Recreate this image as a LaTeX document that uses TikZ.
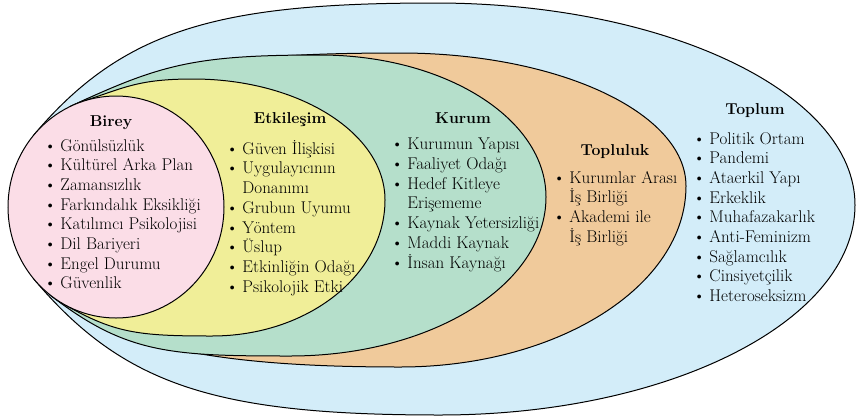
\documentclass[tikz,border=0pt]{standalone}
\definecolor{toplumC}{RGB}{211,237,249}
\definecolor{toplulukC}{RGB}{240,202,155}
\definecolor{kurumC}{RGB}{181,223,203}
\definecolor{etkilesimC}{RGB}{240,238,152}
\definecolor{bireyC}{RGB}{251,221,231}
\tikzset{region/.style={draw=black, line width=1pt, fill=#1},
  head/.style={font=\fontsize{15.8}{19.7}\selectfont\bfseries},
  items/.style={anchor=north west, inner sep=0pt, align=left, font=\fontsize{17}{19.7}\selectfont}}
\newcommand{\itm}{\textbullet\hspace{4pt}}
\newcommand{\ind}{\hphantom{\textbullet\hspace{4pt}}}
\begin{document}
\begin{tikzpicture}[x=1pt,y=-1pt]
  \useasboundingbox (0,0) rectangle (856,418);
  % the outer regions leave the Birey ellipse on its left side
  \draw[region=toplumC] (33.3,135.6) .. controls (123.3,28.4) and (220,3) .. (435,3)
    .. controls (667,3) and (855,93.4) .. (855,205)
    .. controls (855,321) and (669.2,415) .. (440,415)
    .. controls (216.3,415) and (123.3,385.6) .. (33.3,278.4) -- cycle;
  \draw[region=toplulukC] (70.4,106.4) .. controls (158.3,65.4) and (232.7,53) .. (400,53)
    .. controls (558,53) and (686,112.5) .. (686,186)
    .. controls (686,286) and (558,367) .. (400,367)
    .. controls (224.8,367) and (118.5,348.5) .. (49.5,294.5) -- cycle;
  \draw[region=kurumC] (70.4,106.4) .. controls (161,64.1) and (195,55) .. (320,55)
    .. controls (444.8,55) and (546,118.6) .. (546,197)
    .. controls (546,284.8) and (431.4,356) .. (290,356)
    .. controls (169.8,356) and (125.2,353.6) .. (49.5,294.5) -- cycle;
  \draw[region=etkilesimC] (82.6,101.4) .. controls (124.4,87.8) and (138,79) .. (193,79)
    .. controls (299,79) and (385,133.2) .. (385,200)
    .. controls (385,275.1) and (307.5,336) .. (212,336)
    .. controls (137,336) and (114,333.1) .. (62,303.1) -- cycle;
  \draw[region=bireyC] (116,207) ellipse [x radius=108, y radius=111];
  % headings
  \node[head] (birey) at (111,123) {Birey};
  \node[head] (etkilesim) at (290,120) {Etkileşim};
  \node[head] (kurum) at (463,118) {Kurum};
  \node[head] (topluluk) at (615,152) {Topluluk};
  \node[head] (toplum) at (755,111) {Toplum};
  % lists
  \node[items] (bireyList) at (44,139) {\itm Gönülsüzlük\\ \itm Kültürel Arka Plan\\ \itm Zamansızlık\\ \itm Farkındalık Eksikliği\\ \itm Katılımcı Psikolojisi\\ \itm Dil Bariyeri\\ \itm Engel Durumu\\ \itm Güvenlik};
  \node[items] (etkilesimList) at (226,140) {\itm Güven İlişkisi\\ \itm Uygulayıcının\\ \ind Donanımı\\ \itm Grubun Uyumu\\ \itm Yöntem\\ \itm Üslup\\ \itm Etkinliğin Odağı\\ \itm Psikolojik Etki};
  \node[items] (kurumList) at (391,138) {\itm Kurumun Yapısı\\ \itm Faaliyet Odağı\\ \itm Hedef Kitleye\\ \ind Erişememe\\ \itm Kaynak Yetersizliği\\ \itm Maddi Kaynak\\ \itm İnsan Kaynağı};
  \node[items] (toplulukList) at (553,171) {\itm Kurumlar Arası\\ \ind İş Birliği\\ \itm Akademi ile\\ \ind İş Birliği};
  \node[items] (toplumList) at (693,132) {\itm Politik Ortam\\ \itm Pandemi\\ \itm Ataerkil Yapı\\ \itm Erkeklik\\ \itm Muhafazakarlık\\ \itm Anti-Feminizm\\ \itm Sağlamcılık\\ \itm Cinsiyetçilik\\ \itm Heteroseksizm};
\end{tikzpicture}
\end{document}
